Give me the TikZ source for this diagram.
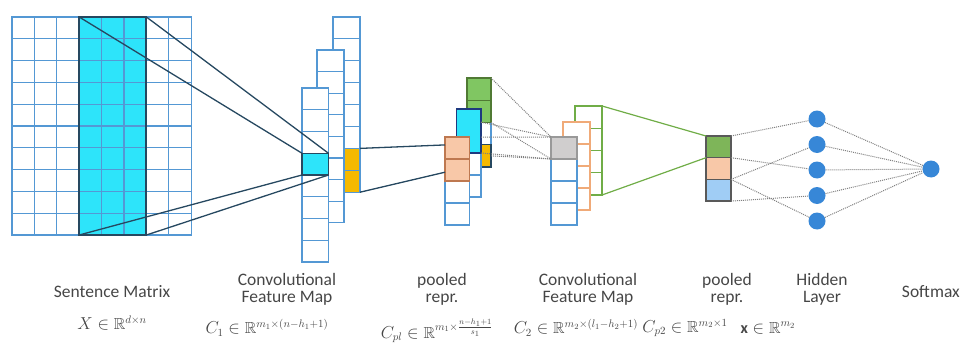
\documentclass[tikz,border=0pt]{standalone}
\usepackage{amssymb}
\usepackage{fontspec}
\setmainfont{Carlito}
\usetikzlibrary{positioning,calc}

\definecolor{grade}{RGB}{84,152,212}
\definecolor{escuro}{RGB}{38,72,96}
\definecolor{ciano}{RGB}{45,228,250}
\definecolor{ouro}{RGB}{245,185,0}
\definecolor{pessego}{RGB}{248,200,168}
\definecolor{pessegob}{RGB}{190,120,80}
\definecolor{verde}{RGB}{128,198,98}
\definecolor{verdeb}{RGB}{80,122,52}
\definecolor{verdel}{RGB}{112,173,71}
\definecolor{laranjab}{RGB}{240,170,120}
\definecolor{cinzaf}{RGB}{208,206,206}
\definecolor{azulc}{RGB}{160,205,245}
\definecolor{neuro}{RGB}{55,135,215}
\definecolor{texto}{RGB}{70,70,70}

\begin{document}
\begin{tikzpicture}[x=1pt,y=-1pt,
  cel/.style={draw=grade,line width=1.1pt},
  bloco/.style={line width=1.3pt,anchor=north west,inner sep=0pt,outer sep=0pt},
  liga/.style={draw=escuro,line width=1.3pt},
  pontos/.style={draw=gray,densely dotted,line width=1pt},
  neuronio/.style={circle,fill=neuro,minimum size=17pt,inner sep=0pt},
  rotulo/.style={align=center,text=texto,inner sep=1pt,font=\fontsize{17.5}{17}\selectfont},
  formula/.style={text=texto,inner sep=1pt,font=\fontsize{16}{18}\selectfont}]
\useasboundingbox (0,0) rectangle (963,345);

% Matriz da frase (8 x 10) com a janela do filtro
\fill[ciano] (79.2,17) rectangle (146.4,235);
\foreach \i in {0,...,7}
  \foreach \j in {0,...,9}
    \draw[cel] (12+\i*22.4,17+\j*21.8) rectangle ++(22.4,21.8);
\node[bloco,draw=escuro,line width=2pt,minimum width=67.2pt,minimum height=218pt] (janela) at (79.2,17) {};

% Mapa convolucional 1
\foreach \j in {0,...,7}
  \draw[cel,fill=white] (333,17+\j*21.9) rectangle ++(27,21.9);
\node[bloco,draw=grade,fill=ouro,minimum width=27pt,minimum height=43.8pt] (max1) at (333,148.4) {};
\draw[cel] (max1.west) -- (max1.east);
\foreach \j in {0,...,7}
  \draw[cel,fill=white] (317,50+\j*21.6) rectangle ++(27,21.6);
\foreach \j in {0,...,7}
  \draw[cel,fill=white] (302,88+\j*21.75) rectangle ++(26.5,21.75);
\node[bloco,draw=escuro,fill=ciano,minimum width=26.5pt,minimum height=21.75pt] (filtro1) at (302,153.25) {};

% Janela -> mapa
\draw[liga] (janela.north west) -- (filtro1.north west);
\draw[liga] (janela.north east) -- (filtro1.north east);
\draw[liga] (janela.south west) -- (filtro1.south west);
\draw[liga] (janela.south east) -- (filtro1.south east);

% Representacao pooled 1
\foreach \j in {0,...,3}
  \draw[cel,fill=white] (467,78+\j*22.25) rectangle ++(24,22.25);
\node[bloco,draw=verdeb,fill=verde,minimum width=24pt,minimum height=44.5pt] (verde1) at (467,78) {};
\draw[verdeb,line width=1.1pt] (verde1.west) -- (verde1.east);
\node[bloco,draw=escuro,fill=ouro,minimum width=24pt,minimum height=22.25pt] (ouro2) at (467,144.75) {};
\foreach \j in {0,...,3}
  \draw[cel,fill=white] (456.5,109+\j*22) rectangle ++(24.5,22);
\node[bloco,draw=escuro!80!blue,fill=ciano,minimum width=24.5pt,minimum height=44pt] (ciano1) at (456.5,109) {};
\foreach \j in {0,...,3}
  \draw[cel,fill=white] (445,137+\j*22) rectangle ++(24.5,22);
\node[bloco,draw=pessegob,fill=pessego,minimum width=24.5pt,minimum height=44pt] (pess1) at (445,137) {};
\draw[pessegob,line width=1.1pt] (pess1.west) -- (pess1.east);

% Mapa -> pooled
\draw[liga] (max1.north east) -- ($(pess1.north west)!0.18!(pess1.south west)$);
\draw[liga] (max1.south east) -- ($(pess1.north west)!0.8!(pess1.south west)$);

% Mapa convolucional 2
\foreach \j in {0,...,3}
  \draw[draw=verdel,line width=1.1pt,fill=white] (575,106+\j*22.25) rectangle ++(27,22.25);
\foreach \j in {0,...,3}
  \draw[draw=laranjab,line width=1.1pt,fill=white] (563,122+\j*22) rectangle ++(27,22);
\foreach \j in {0,...,3}
  \draw[cel,fill=white] (551,137+\j*22) rectangle ++(26,22);
\node[bloco,draw=gray!80,fill=cinzaf,minimum width=26pt,minimum height=22pt] (cinza) at (551,137) {};
\coordinate (c2ne) at (602,106);
\coordinate (c2se) at (602,195);

% Pooled -> mapa 2
\draw[pontos] (verde1.north east) -- (cinza.north west);
\draw[pontos] (verde1.south east) -- (cinza.south west);
\draw[pontos] ($(ciano1.north east)!0.3!(ciano1.south east)$) -- (cinza.north west);
\draw[pontos] ($(ciano1.north east)!0.64!(ciano1.south east)$) -- (cinza.north west);
\draw[pontos] (ouro2.east) -- (cinza.south west);
\draw[pontos] (ciano1.south east) -- (cinza.south west);

% Representacao pooled 2
\node[bloco,draw=gray!70!black,fill=verdel!90!white,minimum width=25pt,minimum height=21.7pt] (p2v) at (706,136) {};
\node[bloco,draw=gray!70!black,fill=pessego,minimum width=25pt,minimum height=21.7pt] (p2l) at (706,157.7) {};
\node[bloco,draw=gray!70!black,fill=azulc,minimum width=25pt,minimum height=21.7pt] (p2a) at (706,179.4) {};
\draw[draw=verdel,line width=1.2pt] (c2ne) -- (p2v.north west);
\draw[draw=verdel,line width=1.2pt] (c2se) -- (p2v.south west);

% Camada oculta e softmax
\foreach \i/\y in {1/119,2/144.5,3/170,4/195.5,5/221}
  \node[neuronio] (h\i) at (817,\y) {};
\node[neuronio] (soft) at (931,169) {};
\draw[pontos] (p2v.north east) -- (h1);
\draw[pontos] (p2v.south east) -- (h3);
\draw[pontos] (p2l.south east) -- (h2);
\draw[pontos] (p2l.south east) -- (h5);
\draw[pontos] (p2a.south east) -- (h4);
\foreach \i in {1,...,5}
  \draw[pontos] (h\i) -- (soft);

% Rotulos
\node[rotulo] (lmat) at (112,292) {Sentence Matrix};
\node[rotulo] (lconv1) at (287,289) {Convolutional\\Feature Map};
\node[rotulo] (lpool1) at (442,289) {pooled\\repr.};
\node[rotulo] (lconv2) at (588,289) {Convolutional\\Feature Map};
\node[rotulo] (lpool2) at (727,289) {pooled\\repr.};
\node[rotulo] (lhid) at (822,289) {Hidden\\Layer};
\node[rotulo,anchor=east] (lsoft) at (961,292) {Softmax};
\node[formula] (fx) at (112,323) {$X \in \mathbb{R}^{d \times n}$};
\node[formula] (fc1) at (267,328) {$C_1 \in \mathbb{R}^{m_1 \times (n-h_1+1)}$};
\node[formula] (fcp1) at (437,331) {$C_{pl} \in \mathbb{R}^{m_1 \times \frac{n-h_1+1}{s_1}}$};
\node[formula] (fc2) at (576,328) {$C_2 \in \mathbb{R}^{m_2 \times (l_1-h_2+1)}$};
\node[formula] (fcp2) at (685,328) {$C_{p2} \in \mathbb{R}^{m_2 \times 1}$};
\node[formula] (fh) at (768,328) {$\mathbf{x} \in \mathbb{R}^{m_2}$};
\end{tikzpicture}
\end{document}
